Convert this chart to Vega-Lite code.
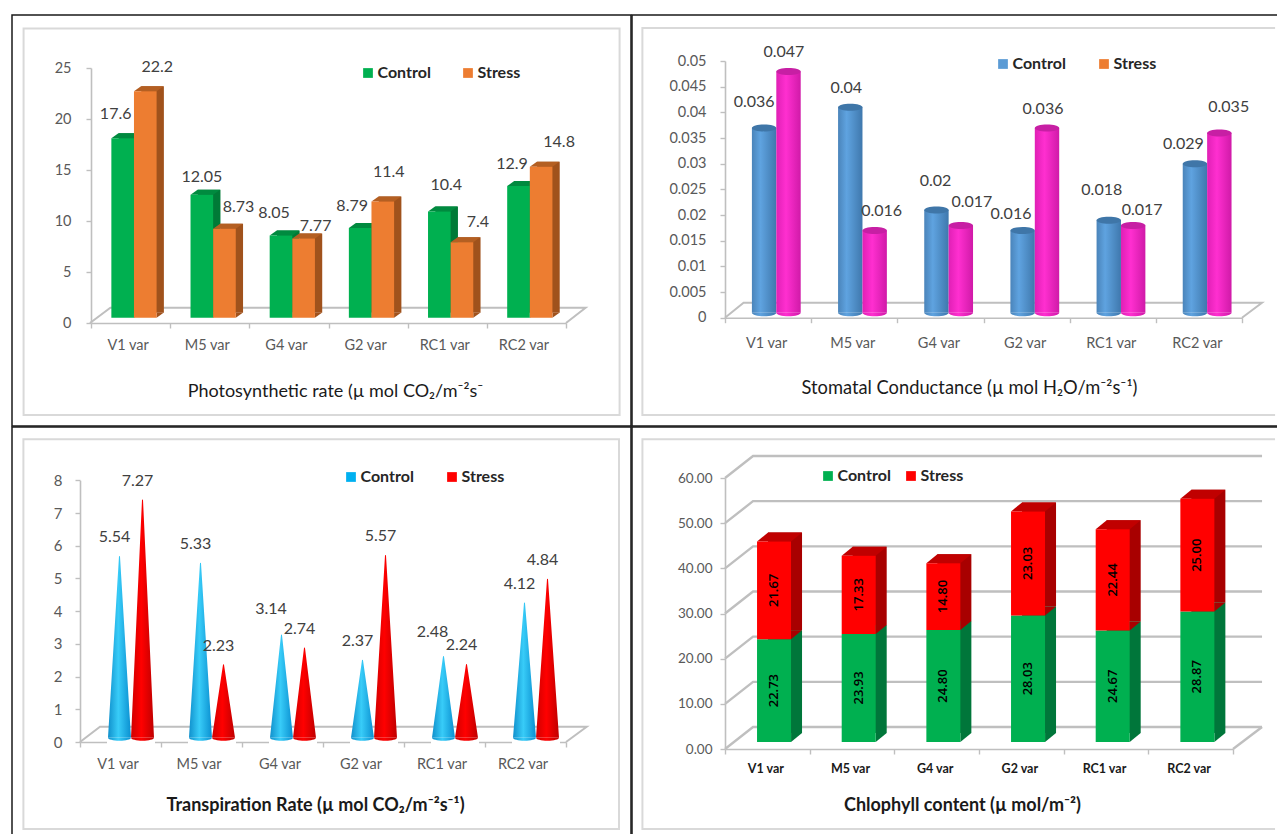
{
"$schema":"https://vega.github.io/schema/vega-lite/v6.json",
"background":"white",
"padding":{"left":11,"top":14,"right":0,"bottom":0},
"spacing":-3,
"resolve":{"scale":{"color":"independent","xOffset":"independent"},"legend":{"color":"independent"}},
"config":{
 "font":"Lato",
 "view":{"stroke":"#1a1a1a","strokeWidth":1.5},
 "axis":{"labelFont":"Lato","labelFontSize":14.5,"labelColor":"#595959","domainColor":"#bfbfbf","domainWidth":1.6,"tickColor":"#bfbfbf","tickWidth":1.4,"tickSize":5,"grid":false,"titleFont":"Lato","titleFontSize":18,"titleFontWeight":"normal","titleColor":"#1a1a1a","titleBaseline":"middle","zindex":1},
 "legend":{"orient":"none","direction":"horizontal","symbolType":"square","symbolSize":95,"symbolStrokeWidth":0,"labelFont":"Lato","labelFontSize":16,"labelFontWeight":"bold","labelColor":"#262626","labelOffset":1.5,"title":null},
 "text":{"font":"Lato","fontSize":16,"color":"#404040"}
},
"vconcat":[
{"spacing":-4,"resolve":{"scale":{"color":"independent","xOffset":"independent"},"legend":{"color":"independent"}},"hconcat":[
{
 "width":619,"height":411,
 "data":{"values":[
  {"variety":"V1 var","series":"Control","value":17.6},{"variety":"V1 var","series":"Stress","value":22.2},
  {"variety":"M5 var","series":"Control","value":12.05},{"variety":"M5 var","series":"Stress","value":8.73},
  {"variety":"G4 var","series":"Control","value":8.05},{"variety":"G4 var","series":"Stress","value":7.77},
  {"variety":"G2 var","series":"Control","value":8.79},{"variety":"G2 var","series":"Stress","value":11.4},
  {"variety":"RC1 var","series":"Control","value":10.4},{"variety":"RC1 var","series":"Stress","value":7.4},
  {"variety":"RC2 var","series":"Control","value":12.9},{"variety":"RC2 var","series":"Stress","value":14.8}
 ]},
 "encoding":{
  "x":{"field":"variety","type":"nominal","scale":{"type":"band","domain":["V1 var","M5 var","G4 var","G2 var","RC1 var","RC2 var"],"range":[79,554],"paddingInner":0,"paddingOuter":0},
   "axis":{"title":"Photosynthetic rate (µ mol CO₂/m⁻²s⁻","orient":"bottom","offset":-103,"tickBand":"extent","labelAngle":0,"labelPadding":10,"labelOffset":-3,"titleX":323,"titleY":68}},
  "xOffset":{"field":"series","type":"nominal","scale":{"type":"band","domain":["Control","Stress"],"paddingInner":0,"paddingOuter":0.75,"align":0.6}},
  "y":{"field":"value","type":"quantitative","scale":{"domain":[0,25],"range":[308,53],"nice":false},
   "axis":{"title":null,"orient":"left","offset":-79,"values":[0,5,10,15,20,25],"labelPadding":15}}
 },
 "layer":[
  {"data":{"values":[{"tick":0}]},"mark":{"type":"point","shape":"M-107,-294.5 H489 V92 H-107 Z","size":4,"filled":false,"stroke":"#d9d9d9","strokeWidth":2,"opacity":1},
   "encoding":{"x":{"datum":"V1 var","type":"nominal"},"y":{"field":"tick","type":"quantitative","axis":{"title":null}},"xOffset":null}},
  {"data":{"values":[{"tick":0}]},"mark":{"type":"point","shape":"M-40.6,0 L-20.2,-15.3 L455,-15.3 L435.4,0","size":4,"filled":false,"stroke":"#bfbfbf","strokeWidth":2,"opacity":1},
   "encoding":{"x":{"datum":"V1 var","type":"nominal"},"y":{"field":"tick","type":"quantitative","axis":{"title":null}},"xOffset":null}},
  {"transform":[{"filter":"datum.series==='Control'"}],"layer":[
   {"mark":{"type":"bar","width":22.6,"color":"#007a37","xOffset":-0.6,"x2Offset":-0.6,"yOffset":-10.3,"y2Offset":-10.3},"encoding":{"xOffset":null}},
   {"mark":{"type":"point","shape":"M11.3,0 V-5 H18.3 Z","size":4,"filled":true,"color":"#007a37","opacity":1,"yOffset":-5.3},"encoding":{"y":{"datum":0,"type":"quantitative","axis":{"title":null}}}},
   {"mark":{"type":"point","shape":"M-11.3,0 L-4.3,-5 H18.3 L11.3,0 Z","size":4,"filled":true,"color":"#008a3f","opacity":1,"yOffset":-5.3}},
   {"mark":{"type":"bar","yOffset":-5.3,"y2Offset":-5.3,"opacity":1},"encoding":{"color":{"field":"series","type":"nominal","scale":{"domain":["Control","Stress"],"range":["#00b050","#ed7d31"]},"legend":{"legendX":348,"legendY":50,"columnPadding":29}}}}
  ]},
  {"transform":[{"filter":"datum.series==='Stress'"}],"layer":[
   {"mark":{"type":"bar","width":22.6,"color":"#a0521c","xOffset":22,"x2Offset":22,"yOffset":-10.3,"y2Offset":-10.3},"encoding":{"xOffset":null}},
   {"mark":{"type":"point","shape":"M11.3,0 V-5 H18.3 Z","size":4,"filled":true,"color":"#a0521c","opacity":1,"yOffset":-5.3},"encoding":{"y":{"datum":0,"type":"quantitative","axis":{"title":null}}}},
   {"mark":{"type":"point","shape":"M-11.3,0 L-4.3,-5 H18.3 L11.3,0 Z","size":4,"filled":true,"color":"#b45f22","opacity":1,"yOffset":-5.3}},
   {"mark":{"type":"bar","yOffset":-5.3,"y2Offset":-5.3,"opacity":1},"encoding":{"color":{"field":"series","type":"nominal"}}}
  ]},
  {"encoding":{"text":{"field":"value","type":"quantitative"}},"layer":[
   {"transform":[{"filter":"datum.variety==='V1 var'&&datum.series==='Control'"}],"mark":{"type":"text","dx":-7,"dy":-29}},
   {"transform":[{"filter":"datum.variety==='V1 var'&&datum.series==='Stress'"}],"mark":{"type":"text","dx":12,"dy":-30}},
   {"transform":[{"filter":"datum.variety==='M5 var'&&datum.series==='Control'"}],"mark":{"type":"text","dx":0,"dy":-23}},
   {"transform":[{"filter":"datum.variety==='M5 var'&&datum.series==='Stress'"}],"mark":{"type":"text","dx":14,"dy":-27}},
   {"transform":[{"filter":"datum.variety==='G4 var'&&datum.series==='Control'"}],"mark":{"type":"text","dx":-7,"dy":-28}},
   {"transform":[{"filter":"datum.variety==='G4 var'&&datum.series==='Stress'"}],"mark":{"type":"text","dx":12,"dy":-18}},
   {"transform":[{"filter":"datum.variety==='G2 var'&&datum.series==='Control'"}],"mark":{"type":"text","dx":-8,"dy":-27}},
   {"transform":[{"filter":"datum.variety==='G2 var'&&datum.series==='Stress'"}],"mark":{"type":"text","dx":6,"dy":-35}},
   {"transform":[{"filter":"datum.variety==='RC1 var'&&datum.series==='Control'"}],"mark":{"type":"text","dx":7,"dy":-32}},
   {"transform":[{"filter":"datum.variety==='RC1 var'&&datum.series==='Stress'"}],"mark":{"type":"text","dx":16,"dy":-26}},
   {"transform":[{"filter":"datum.variety==='RC2 var'&&datum.series==='Control'"}],"mark":{"type":"text","dx":-6.5,"dy":-27}},
   {"transform":[{"filter":"datum.variety==='RC2 var'&&datum.series==='Stress'"}],"mark":{"type":"text","dx":18,"dy":-30}}
  ]}
 ]
},
{
 "width":650,"height":411,
 "data":{"values":[
  {"variety":"V1 var","series":"Control","value":0.036},{"variety":"V1 var","series":"Stress","value":0.047},
  {"variety":"M5 var","series":"Control","value":0.04},{"variety":"M5 var","series":"Stress","value":0.016},
  {"variety":"G4 var","series":"Control","value":0.02},{"variety":"G4 var","series":"Stress","value":0.017},
  {"variety":"G2 var","series":"Control","value":0.016},{"variety":"G2 var","series":"Stress","value":0.036},
  {"variety":"RC1 var","series":"Control","value":0.018},{"variety":"RC1 var","series":"Stress","value":0.017},
  {"variety":"RC2 var","series":"Control","value":0.029},{"variety":"RC2 var","series":"Stress","value":0.035}
 ]},
 "encoding":{
  "x":{"field":"variety","type":"nominal","scale":{"type":"band","domain":["V1 var","M5 var","G4 var","G2 var","RC1 var","RC2 var"],"range":[93,610],"paddingInner":0,"paddingOuter":0},
   "axis":{"title":"Stomatal Conductance (µ mol H₂O/m⁻²s⁻¹)","titleFontSize":18.3,"orient":"bottom","offset":-108.3,"tickBand":"extent","labelAngle":0,"labelPadding":14,"labelOffset":-2,"titleX":337,"titleY":71}},
  "xOffset":{"field":"series","type":"nominal","scale":{"type":"band","domain":["Control","Stress"],"paddingInner":0,"paddingOuter":0.766,"align":0.72}},
  "y":{"field":"value","type":"quantitative","scale":{"domain":[0,0.05],"range":[302.7,46],"nice":false},
   "axis":{"title":null,"orient":"left","offset":-93,"values":[0,0.005,0.01,0.015,0.02,0.025,0.03,0.035,0.04,0.045,0.05],"format":".3~f","labelPadding":14}}
 },
 "layer":[
  {"data":{"values":[{"tick":0}]},"mark":{"type":"point","shape":"M507,-289.7 H-125.7 V97.3 H507","size":4,"filled":false,"stroke":"#d9d9d9","strokeWidth":2,"opacity":1},
   "encoding":{"x":{"datum":"V1 var","type":"nominal"},"y":{"field":"tick","type":"quantitative","axis":{"title":null}},"xOffset":null}},
  {"data":{"values":[{"tick":0}]},"mark":{"type":"point","shape":"M-43.1,0 L-24.5,-15 L493.9,-15 L473.9,0","size":4,"filled":false,"stroke":"#bfbfbf","strokeWidth":2,"opacity":1},
   "encoding":{"x":{"datum":"V1 var","type":"nominal"},"y":{"field":"tick","type":"quantitative","axis":{"title":null}},"xOffset":null}},
  {"mark":{"type":"point","filled":true,"size":0},"encoding":{"color":{"field":"series","type":"nominal","scale":{"domain":["Control","Stress"],"range":["#5b9bd5","#ed7d31"]},"legend":{"legendX":363,"legendY":41,"columnPadding":30,"symbolOpacity":1}}}},
  {"transform":[{"filter":"datum.series==='Control'"}],"layer":[
   {"mark":{"type":"point","shape":"M-12.2,0 A12.2,3.5 0 0 0 12.2,0 Z","size":4,"filled":true,"opacity":1,"yOffset":-5,"fill":{"gradient":"linear","x1":0,"x2":1,"y1":0,"y2":0,"stops":[{"offset":0,"color":"#4a84ba"},{"offset":0.35,"color":"#5fa3e0"},{"offset":1,"color":"#3f78ad"}]}},"encoding":{"y":{"datum":0,"type":"quantitative","axis":{"title":null}}}},
   {"mark":{"type":"bar","yOffset":-5,"y2Offset":-5,"fill":{"gradient":"linear","x1":0,"x2":1,"y1":0,"y2":0,"stops":[{"offset":0,"color":"#4a84ba"},{"offset":0.35,"color":"#5fa3e0"},{"offset":1,"color":"#3f78ad"}]}}},
   {"mark":{"type":"point","shape":"M-12.2,0 A12.2,3.5 0 1 1 12.2,0 A12.2,3.5 0 1 1 -12.2,0 Z","size":4,"filled":true,"color":"#3f76a8","opacity":1,"yOffset":-5}}
  ]},
  {"transform":[{"filter":"datum.series==='Stress'"}],"layer":[
   {"mark":{"type":"point","shape":"M-12.2,0 A12.2,3.5 0 0 0 12.2,0 Z","size":4,"filled":true,"opacity":1,"yOffset":-5,"fill":{"gradient":"linear","x1":0,"x2":1,"y1":0,"y2":0,"stops":[{"offset":0,"color":"#e020b5"},{"offset":0.4,"color":"#ff2fd0"},{"offset":1,"color":"#d01aa8"}]}},"encoding":{"y":{"datum":0,"type":"quantitative","axis":{"title":null}}}},
   {"mark":{"type":"bar","yOffset":-5,"y2Offset":-5,"fill":{"gradient":"linear","x1":0,"x2":1,"y1":0,"y2":0,"stops":[{"offset":0,"color":"#e020b5"},{"offset":0.4,"color":"#ff2fd0"},{"offset":1,"color":"#d01aa8"}]}}},
   {"mark":{"type":"point","shape":"M-12.2,0 A12.2,3.5 0 1 1 12.2,0 A12.2,3.5 0 1 1 -12.2,0 Z","size":4,"filled":true,"color":"#c71fa4","opacity":1,"yOffset":-5}}
  ]},
  {"encoding":{"text":{"field":"value","type":"quantitative","format":".3~f"}},"layer":[
   {"transform":[{"filter":"datum.variety==='V1 var'&&datum.series==='Control'"}],"mark":{"type":"text","dx":-10,"dy":-31}},
   {"transform":[{"filter":"datum.variety==='V1 var'&&datum.series==='Stress'"}],"mark":{"type":"text","dx":-4.6,"dy":-24}},
   {"transform":[{"filter":"datum.variety==='M5 var'&&datum.series==='Control'"}],"mark":{"type":"text","dx":-4,"dy":-24}},
   {"transform":[{"filter":"datum.variety==='M5 var'&&datum.series==='Stress'"}],"mark":{"type":"text","dx":7,"dy":-25}},
   {"transform":[{"filter":"datum.variety==='G4 var'&&datum.series==='Control'"}],"mark":{"type":"text","dx":-1,"dy":-34}},
   {"transform":[{"filter":"datum.variety==='G4 var'&&datum.series==='Stress'"}],"mark":{"type":"text","dx":11,"dy":-28}},
   {"transform":[{"filter":"datum.variety==='G2 var'&&datum.series==='Control'"}],"mark":{"type":"text","dx":-11.6,"dy":-22}},
   {"transform":[{"filter":"datum.variety==='G2 var'&&datum.series==='Stress'"}],"mark":{"type":"text","dx":-4,"dy":-24}},
   {"transform":[{"filter":"datum.variety==='RC1 var'&&datum.series==='Control'"}],"mark":{"type":"text","dx":-7,"dy":-35}},
   {"transform":[{"filter":"datum.variety==='RC1 var'&&datum.series==='Stress'"}],"mark":{"type":"text","dx":9,"dy":-20}},
   {"transform":[{"filter":"datum.variety==='RC2 var'&&datum.series==='Control'"}],"mark":{"type":"text","dx":-11.5,"dy":-25}},
   {"transform":[{"filter":"datum.variety==='RC2 var'&&datum.series==='Stress'"}],"mark":{"type":"text","dx":9.4,"dy":-31}}
  ]}
 ]
}
]},
{"spacing":-4,"resolve":{"scale":{"color":"independent","xOffset":"independent"},"legend":{"color":"independent"}},"hconcat":[
{
 "width":619,"height":411,
 "data":{"values":[
  {"variety":"V1 var","series":"Control","base":0,"value":5.54},{"variety":"V1 var","series":"Stress","base":0,"value":7.27},
  {"variety":"M5 var","series":"Control","base":0,"value":5.33},{"variety":"M5 var","series":"Stress","base":0,"value":2.23},
  {"variety":"G4 var","series":"Control","base":0,"value":3.14},{"variety":"G4 var","series":"Stress","base":0,"value":2.74},
  {"variety":"G2 var","series":"Control","base":0,"value":2.37},{"variety":"G2 var","series":"Stress","base":0,"value":5.57},
  {"variety":"RC1 var","series":"Control","base":0,"value":2.48},{"variety":"RC1 var","series":"Stress","base":0,"value":2.24},
  {"variety":"RC2 var","series":"Control","base":0,"value":4.12},{"variety":"RC2 var","series":"Stress","base":0,"value":4.84}
 ]},
 "encoding":{
  "x":{"field":"variety","type":"nominal","scale":{"type":"band","domain":["V1 var","M5 var","G4 var","G2 var","RC1 var","RC2 var"],"range":[68,554],"paddingInner":0,"paddingOuter":0},
   "axis":{"title":"Transpiration Rate (µ mol CO₂/m⁻²s⁻¹)","titleFontWeight":"bold","orient":"bottom","offset":-96,"tickBand":"extent","labelAngle":0,"labelPadding":10,"labelOffset":-3,"titleX":303,"titleY":63}},
  "xOffset":{"field":"series","type":"nominal","scale":{"type":"band","domain":["Control","Stress"],"paddingInner":0,"paddingOuter":0.76,"align":0.8}},
  "y":{"field":"value","type":"quantitative","scale":{"domain":[0,8],"range":[315,53.3],"nice":false},
   "axis":{"title":null,"orient":"left","offset":-68,"values":[0,1,2,3,4,5,6,7,8],"labelPadding":13,"labelFontSize":15}}
 },
 "layer":[
  {"data":{"values":[{"tick":0}]},"mark":{"type":"point","shape":"M-97.1,-302.7 H498.5 V87 H-97.1 Z","size":4,"filled":false,"stroke":"#d9d9d9","strokeWidth":2,"opacity":1},
   "encoding":{"x":{"datum":"V1 var","type":"nominal"},"y":{"field":"tick","type":"quantitative","axis":{"title":null}},"xOffset":null}},
  {"data":{"values":[{"tick":0}]},"mark":{"type":"point","shape":"M-40.5,0 L-20.5,-15.3 L466.2,-15.3 L445.5,0","size":4,"filled":false,"stroke":"#bfbfbf","strokeWidth":2,"opacity":1},
   "encoding":{"x":{"datum":"V1 var","type":"nominal"},"y":{"field":"tick","type":"quantitative","axis":{"title":null}},"xOffset":null}},
  {"mark":{"type":"point","filled":true,"size":0},"encoding":{"color":{"field":"series","type":"nominal","scale":{"domain":["Control","Stress"],"range":["#00b0f0","#ff0000"]},"legend":{"legendX":331,"legendY":42,"columnPadding":30,"symbolOpacity":1}}}},
  {"transform":[{"fold":["base","value"],"as":["end","level"]},{"filter":"datum.series==='Control'"}],
   "mark":{"type":"trail","yOffset":-4.3,"fill":{"gradient":"linear","x1":0,"x2":1,"y1":0,"y2":0,"stops":[{"offset":0,"color":"#1090cc"},{"offset":0.45,"color":"#38ccf8"},{"offset":1,"color":"#0a8fd0"}]}},
   "encoding":{"y":{"field":"level","type":"quantitative","axis":{"title":null}},"size":{"field":"end","type":"ordinal","scale":{"domain":["base","value"],"range":[23,0]},"legend":null},"detail":{"field":"variety"},"order":{"field":"end"}}},
  {"transform":[{"fold":["base","value"],"as":["end","level"]},{"filter":"datum.series==='Stress'"}],
   "mark":{"type":"trail","yOffset":-4.3,"fill":{"gradient":"linear","x1":0,"x2":1,"y1":0,"y2":0,"stops":[{"offset":0,"color":"#d00000"},{"offset":0.45,"color":"#ff0000"},{"offset":1,"color":"#c00000"}]}},
   "encoding":{"y":{"field":"level","type":"quantitative","axis":{"title":null}},"size":{"field":"end","type":"ordinal","scale":{"domain":["base","value"],"range":[23,0]},"legend":null},"detail":{"field":"variety"},"order":{"field":"end"}}},
  {"mark":{"type":"point","shape":"M-12.5,0 H12.5 V14 H-12.5 Z","size":4,"filled":true,"color":"white","opacity":1,"yOffset":-4.3},"encoding":{"y":{"datum":0,"type":"quantitative","axis":{"title":null}}}},
  {"transform":[{"filter":"datum.series==='Control'"}],"mark":{"type":"point","shape":"M-11.5,0 A11.5,3 0 0 0 11.5,0 Z","size":4,"filled":true,"opacity":1,"yOffset":-4.3,"fill":{"gradient":"linear","x1":0,"x2":1,"y1":0,"y2":0,"stops":[{"offset":0,"color":"#1090cc"},{"offset":0.45,"color":"#38ccf8"},{"offset":1,"color":"#0a8fd0"}]}},"encoding":{"y":{"datum":0,"type":"quantitative","axis":{"title":null}}}},
  {"transform":[{"filter":"datum.series==='Stress'"}],"mark":{"type":"point","shape":"M-11.5,0 A11.5,3 0 0 0 11.5,0 Z","size":4,"filled":true,"opacity":1,"yOffset":-4.3,"fill":{"gradient":"linear","x1":0,"x2":1,"y1":0,"y2":0,"stops":[{"offset":0,"color":"#d00000"},{"offset":0.45,"color":"#ff0000"},{"offset":1,"color":"#c00000"}]}},"encoding":{"y":{"datum":0,"type":"quantitative","axis":{"title":null}}}},
  {"encoding":{"text":{"field":"value","type":"quantitative"}},"layer":[
   {"transform":[{"filter":"datum.value!==3.14&&datum.value!==2.48"}],"mark":{"type":"text","dx":-5,"dy":-23.3}},
   {"transform":[{"filter":"datum.value===3.14"}],"mark":{"type":"text","dx":-10.5,"dy":-30.3}},
   {"transform":[{"filter":"datum.value===2.48"}],"mark":{"type":"text","dx":-11,"dy":-29}}
  ]}
 ]
},
{
 "width":650,"height":411,
 "data":{"values":[
  {"variety":"V1 var","series":"Control","value":22.73},{"variety":"V1 var","series":"Stress","value":21.67},
  {"variety":"M5 var","series":"Control","value":23.93},{"variety":"M5 var","series":"Stress","value":17.33},
  {"variety":"G4 var","series":"Control","value":24.80},{"variety":"G4 var","series":"Stress","value":14.80},
  {"variety":"G2 var","series":"Control","value":28.03},{"variety":"G2 var","series":"Stress","value":23.03},
  {"variety":"RC1 var","series":"Control","value":24.67},{"variety":"RC1 var","series":"Stress","value":22.44},
  {"variety":"RC2 var","series":"Control","value":28.87},{"variety":"RC2 var","series":"Stress","value":25.00}
 ]},
 "transform":[{"stack":"value","groupby":["variety"],"sort":[{"field":"series","order":"ascending"}],"as":["stackLow","stackHigh"]}],
 "encoding":{
  "x":{"field":"variety","type":"nominal","scale":{"type":"band","domain":["V1 var","M5 var","G4 var","G2 var","RC1 var","RC2 var"],"range":[93,601],"paddingInner":0,"paddingOuter":0},
   "axis":{"title":"Chlophyll content (µ mol/m⁻²)","titleFontWeight":"bold","orient":"bottom","offset":-89,"tickBand":"extent","labelAngle":0,"labelPadding":8,"labelOffset":-2,"labelFontSize":12.5,"labelFontWeight":"bold","labelColor":"#1a1a1a","titleX":330,"titleY":56}},
  "y":{"field":"stackHigh","type":"quantitative","scale":{"domain":[0,60],"range":[322,51],"nice":false},
   "axis":{"title":null,"orient":"left","offset":-93,"values":[0,10,20,30,40,50,60],"format":".2f","labelPadding":8,"labelFontSize":13.5}},
  "y2":{"field":"stackLow"}
 },
 "layer":[
  {"data":{"values":[{"tick":0}]},"mark":{"type":"point","shape":"M507.7,-309.7 H-124.9 V80 H507.7","size":4,"filled":false,"stroke":"#d9d9d9","strokeWidth":2,"opacity":1},
   "encoding":{"x":{"datum":"V1 var","type":"nominal"},"y":{"field":"tick","type":"quantitative","axis":{"title":null}},"y2":null}},
  {"data":{"values":[{"tick":0},{"tick":10},{"tick":20},{"tick":30},{"tick":40},{"tick":50},{"tick":60}]},"mark":{"type":"point","shape":"M-42.3,0 L-14.3,-22 H494.7","size":4,"filled":false,"stroke":"#bfbfbf","strokeWidth":2.4,"opacity":1},
   "encoding":{"x":{"datum":"V1 var","type":"nominal"},"y":{"field":"tick","type":"quantitative","axis":{"title":null}},"y2":null}},
  {"data":{"values":[{"tick":0}]},"mark":{"type":"point","shape":"M465.7,0 L494.7,-22","size":4,"filled":false,"stroke":"#bfbfbf","strokeWidth":2.4,"opacity":1},
   "encoding":{"x":{"datum":"V1 var","type":"nominal"},"y":{"field":"tick","type":"quantitative","axis":{"title":null}},"y2":null}},
  {"transform":[{"filter":"datum.series==='Stress'"}],"mark":{"type":"bar","width":34,"color":"#a80000","xOffset":17.7,"x2Offset":17.7,"yOffset":-16,"y2Offset":-16}},
  {"transform":[{"filter":"datum.series==='Stress'"}],"mark":{"type":"point","shape":"M-17,0 L-6,-9 H28 L17,0 Z","size":4,"filled":true,"color":"#c00000","opacity":1,"xOffset":6.7,"yOffset":-7},"encoding":{"y2":null}},
  {"transform":[{"filter":"datum.series==='Control'"}],"mark":{"type":"bar","width":34,"color":"#00763a","xOffset":17.7,"x2Offset":17.7,"yOffset":-16,"y2Offset":-16}},
  {"transform":[{"filter":"datum.series==='Control'"}],"mark":{"type":"point","shape":"M17,0 V-9 H28 Z","size":4,"filled":true,"color":"#a80000","opacity":1,"xOffset":6.7,"yOffset":-7},"encoding":{"y2":null}},
  {"transform":[{"filter":"datum.series==='Control'"}],"mark":{"type":"point","shape":"M17,0 V-9 H28 Z","size":4,"filled":true,"color":"#00763a","opacity":1,"xOffset":6.7,"yOffset":-7},"encoding":{"y":{"datum":0,"type":"quantitative","axis":{"title":null}},"y2":null}},
  {"mark":{"type":"bar","width":34,"xOffset":6.7,"x2Offset":6.7,"yOffset":-7,"y2Offset":-7,"opacity":1},"encoding":{"color":{"field":"series","type":"nominal","scale":{"domain":["Control","Stress"],"range":["#00b050","#ff0000"]},"legend":{"legendX":188,"legendY":41,"columnPadding":12}}}},
  {"encoding":{"text":{"field":"value","type":"quantitative","format":".2f"},"y2":null},"layer":[
   {"transform":[{"filter":"datum.variety==='V1 var'&&datum.series==='Control'"}],"mark":{"type":"text","font":"Open Sans","fontSize":13,"fontWeight":600,"color":"#000000","angle":270,"xOffset":6.7,"yOffset":44.3}},
   {"transform":[{"filter":"datum.variety==='V1 var'&&datum.series==='Stress'"}],"mark":{"type":"text","font":"Open Sans","fontSize":13,"fontWeight":600,"color":"#000000","angle":270,"xOffset":6.7,"yOffset":41.9}},
   {"transform":[{"filter":"datum.variety==='M5 var'&&datum.series==='Control'"}],"mark":{"type":"text","font":"Open Sans","fontSize":13,"fontWeight":600,"color":"#000000","angle":270,"xOffset":6.7,"yOffset":47}},
   {"transform":[{"filter":"datum.variety==='M5 var'&&datum.series==='Stress'"}],"mark":{"type":"text","font":"Open Sans","fontSize":13,"fontWeight":600,"color":"#000000","angle":270,"xOffset":6.7,"yOffset":32.1}},
   {"transform":[{"filter":"datum.variety==='G4 var'&&datum.series==='Control'"}],"mark":{"type":"text","font":"Open Sans","fontSize":13,"fontWeight":600,"color":"#000000","angle":270,"xOffset":6.7,"yOffset":49}},
   {"transform":[{"filter":"datum.variety==='G4 var'&&datum.series==='Stress'"}],"mark":{"type":"text","font":"Open Sans","fontSize":13,"fontWeight":600,"color":"#000000","angle":270,"xOffset":6.7,"yOffset":26.4}},
   {"transform":[{"filter":"datum.variety==='G2 var'&&datum.series==='Control'"}],"mark":{"type":"text","font":"Open Sans","fontSize":13,"fontWeight":600,"color":"#000000","angle":270,"xOffset":6.7,"yOffset":56.3}},
   {"transform":[{"filter":"datum.variety==='G2 var'&&datum.series==='Stress'"}],"mark":{"type":"text","font":"Open Sans","fontSize":13,"fontWeight":600,"color":"#000000","angle":270,"xOffset":6.7,"yOffset":45}},
   {"transform":[{"filter":"datum.variety==='RC1 var'&&datum.series==='Control'"}],"mark":{"type":"text","font":"Open Sans","fontSize":13,"fontWeight":600,"color":"#000000","angle":270,"xOffset":6.7,"yOffset":48.7}},
   {"transform":[{"filter":"datum.variety==='RC1 var'&&datum.series==='Stress'"}],"mark":{"type":"text","font":"Open Sans","fontSize":13,"fontWeight":600,"color":"#000000","angle":270,"xOffset":6.7,"yOffset":43.7}},
   {"transform":[{"filter":"datum.variety==='RC2 var'&&datum.series==='Control'"}],"mark":{"type":"text","font":"Open Sans","fontSize":13,"fontWeight":600,"color":"#000000","angle":270,"xOffset":6.7,"yOffset":58.2}},
   {"transform":[{"filter":"datum.variety==='RC2 var'&&datum.series==='Stress'"}],"mark":{"type":"text","font":"Open Sans","fontSize":13,"fontWeight":600,"color":"#000000","angle":270,"xOffset":6.7,"yOffset":49.5}}
  ]}
 ]
}
]}
]
}
